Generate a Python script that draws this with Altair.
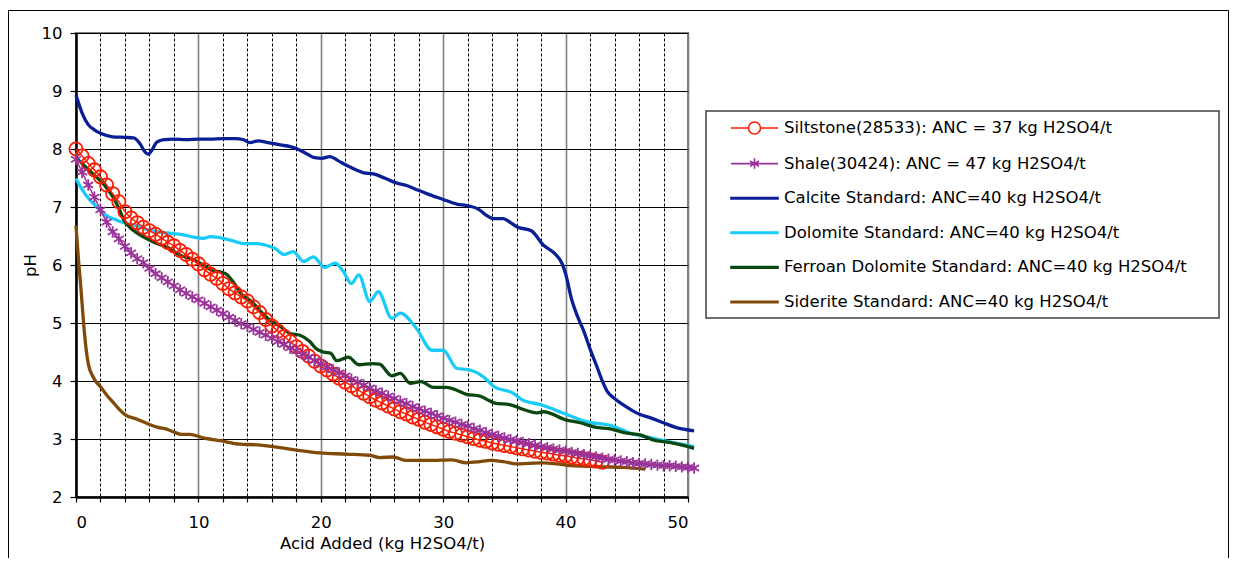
import altair as alt
import pandas as pd

series_names = [
    "Siltstone(28533): ANC = 37 kg H2SO4/t",
    "Shale(30424): ANC = 47 kg H2SO4/t",
    "Calcite Standard: ANC=40 kg H2SO4/t",
    "Dolomite Standard: ANC=40 kg H2SO4/t",
    "Ferroan Dolomite Standard: ANC=40 kg H2SO4/t",
    "Siderite Standard: ANC=40 kg H2SO4/t",
]
series_colors = ["#FA1E05", "#993399", "#0A1E96", "#1ACBF7", "#0B4710", "#804A08"]

# legend glyphs (line + marker), custom symbol paths
thick_bar = "M-1.88,-0.06H1.88V0.06H-1.88Z"
legend_shapes = [
    "M-1.88,0H-0.48M0.48,0H1.88M0.48,0A0.48,0.48 0 1 1 -0.48,0A0.48,0.48 0 1 1 0.48,0",
    "M-1.88,0H1.88M0,-0.42V0.42M-0.36,-0.21L0.36,0.21M-0.36,0.21L0.36,-0.21",
    thick_bar, thick_bar, thick_bar, thick_bar,
]
star_path = "M0,-1V1M-0.87,-0.5L0.87,0.5M-0.87,0.5L0.87,-0.5"

x_tick_values = [0, 2, 4, 6, 8, 10, 12, 14, 16, 18, 20, 22, 24, 26, 28, 30,
                 32, 34, 36, 38, 40, 42, 44, 46, 48, 50]
y_tick_values = [2, 3, 4, 5, 6, 7, 8, 9, 10]

# Siltstone: readings every 0.5 kg H2SO4/t
siltstone_ph = [8.0, 7.88, 7.75, 7.64, 7.52, 7.38, 7.23, 7.09, 6.92, 6.81, 6.73, 6.65,
                6.59, 6.53, 6.46, 6.39, 6.33, 6.25, 6.18, 6.1, 6.02, 5.92, 5.84, 5.77,
                5.68, 5.59, 5.52, 5.45, 5.38, 5.28, 5.18, 5.06, 4.95, 4.86, 4.77, 4.68,
                4.59, 4.51, 4.43, 4.34, 4.26, 4.19, 4.12, 4.05, 3.98, 3.92, 3.85, 3.79,
                3.73, 3.67, 3.62, 3.57, 3.52, 3.47, 3.43, 3.38, 3.34, 3.29, 3.25, 3.21,
                3.17, 3.13, 3.1, 3.07, 3.04, 3.01, 2.98, 2.96, 2.93, 2.91, 2.89, 2.87,
                2.85, 2.83, 2.81, 2.79, 2.77, 2.76, 2.74, 2.72, 2.71, 2.69, 2.67, 2.66,
                2.64, 2.62, 2.6]
siltstone_acid = [i * 0.5 for i in range(len(siltstone_ph))]

# Shale: readings every 0.5 kg H2SO4/t
shale_ph = [7.82, 7.6, 7.38, 7.17, 6.95, 6.74, 6.57, 6.45, 6.32, 6.21, 6.11, 6.04,
            5.94, 5.85, 5.78, 5.71, 5.64, 5.57, 5.51, 5.45, 5.4, 5.34, 5.28, 5.22,
            5.16, 5.1, 5.04, 4.99, 4.94, 4.89, 4.84, 4.79, 4.74, 4.68, 4.63, 4.57,
            4.52, 4.46, 4.41, 4.35, 4.3, 4.24, 4.19, 4.14, 4.09, 4.03, 3.98, 3.93,
            3.88, 3.83, 3.79, 3.74, 3.7, 3.65, 3.61, 3.56, 3.52, 3.48, 3.44, 3.4,
            3.36, 3.32, 3.29, 3.25, 3.22, 3.18, 3.15, 3.11, 3.08, 3.05, 3.02, 2.99,
            2.97, 2.94, 2.92, 2.89, 2.87, 2.85, 2.83, 2.81, 2.79, 2.77, 2.75, 2.73,
            2.71, 2.69, 2.67, 2.65, 2.64, 2.62, 2.61, 2.59, 2.58, 2.57, 2.56, 2.55,
            2.54, 2.54, 2.53, 2.52, 2.51, 2.5]
shale_acid = [i * 0.5 for i in range(len(shale_ph))]

calcite_acid = [0, 0.5, 1.0, 1.5, 2.0, 3.0, 4.0, 4.7, 5.2, 5.6, 5.9, 6.2, 6.6, 7.2, 8, 9,
                10, 11, 12, 13, 13.7, 14.2, 14.9, 15.5, 16.7, 17.5, 18.3, 19.0, 19.5,
                20.1, 20.75, 21.4, 22.1, 23.0, 23.5, 24.3, 25.2, 26.1, 27.0, 27.6, 28.65,
                30.0, 31.1, 32.05, 32.9, 33.5, 34.1, 34.9, 35.5, 36.0, 37.2, 38.2, 39.1,
                39.7, 40.0, 40.5, 41.0, 41.5, 42.0, 42.5, 43.0, 43.4, 44.0, 45.0, 46.0,
                47.0, 48.0, 49.0, 50.5]
calcite_ph = [8.93, 8.62, 8.42, 8.33, 8.27, 8.21, 8.2, 8.19, 8.1, 7.96, 7.91, 7.98, 8.12,
              8.16, 8.17, 8.16, 8.17, 8.17, 8.18, 8.18, 8.16, 8.11, 8.14, 8.12, 8.07,
              8.04, 7.98, 7.9, 7.85, 7.84, 7.87, 7.8, 7.72, 7.63, 7.59, 7.57, 7.5, 7.42,
              7.37, 7.32, 7.23, 7.13, 7.05, 7.02, 6.96, 6.86, 6.8, 6.8, 6.73, 6.66, 6.59,
              6.34, 6.2, 6.03, 5.85, 5.4, 5.1, 4.85, 4.55, 4.28, 4.0, 3.82, 3.7, 3.55,
              3.43, 3.36, 3.28, 3.2, 3.14]

dolomite_acid = [0, 0.5, 1.14, 1.7, 2.2, 3.0, 3.6, 5.2, 6.0, 7.1, 8.0, 8.8, 9.6, 10.4,
                 11.0, 11.5, 12.6, 13.7, 14.8, 15.85, 16.3, 17.0, 17.75, 18.6, 19.4, 20.3,
                 21.2, 21.8, 22.5, 23.1, 24.0, 24.7, 25.8, 26.5, 27.8, 29.1, 30.0, 31.1,
                 32.2, 33.3, 34.1, 35.7, 36.5, 38.0, 40.0, 41.7, 43.9, 45.3, 47.2, 48.5,
                 50.5]
dolomite_ph = [7.49, 7.3, 7.12, 7.0, 6.89, 6.8, 6.75, 6.66, 6.6, 6.56, 6.54, 6.52, 6.48,
               6.46, 6.49, 6.48, 6.43, 6.37, 6.37, 6.32, 6.28, 6.18, 6.23, 6.06, 6.14,
               5.96, 6.03, 5.9, 5.68, 5.83, 5.37, 5.54, 5.08, 5.17, 4.91, 4.53, 4.53,
               4.22, 4.19, 4.07, 3.91, 3.79, 3.67, 3.59, 3.43, 3.3, 3.22, 3.1, 3.01,
               2.95, 2.87]

ferroan_acid = [0, 0.5, 1, 1.5, 2, 2.5, 3, 3.5, 3.9, 4.5, 5.0, 5.8, 6.6, 7.5, 8.5, 9.5,
                10.4, 11.2, 11.8, 12.3, 12.9, 13.5, 14.35, 15.0, 15.85, 16.7, 17.5, 18.3,
                19.1, 19.6, 20.2, 20.8, 21.3, 22.25, 23.1, 24.2, 24.8, 25.8, 26.5, 27.3,
                28.2, 29.2, 30.3, 31.1, 31.9, 33.0, 33.5, 34.2, 35.5, 36.7, 37.6, 38.2,
                40.0, 41.2, 42.5, 43.5, 45.0, 46.1, 47.2, 48.5, 50.5]
ferroan_ph = [7.85, 7.75, 7.65, 7.55, 7.45, 7.33, 7.18, 6.98, 6.78, 6.63, 6.55, 6.45,
              6.37, 6.3, 6.17, 6.1, 6.0, 5.9, 5.88, 5.84, 5.69, 5.5, 5.37, 5.22, 5.05,
              4.94, 4.82, 4.79, 4.68, 4.56, 4.5, 4.48, 4.35, 4.41, 4.28, 4.3, 4.29, 4.09,
              4.13, 3.96, 3.99, 3.89, 3.89, 3.84, 3.77, 3.74, 3.69, 3.62, 3.59, 3.5,
              3.45, 3.47, 3.33, 3.28, 3.2, 3.18, 3.1, 3.07, 2.98, 2.94, 2.84]

siderite_acid = [0, 0.2, 0.4, 0.6, 0.8, 1.0, 1.4, 2.0, 2.5, 3.0, 3.5, 4.0, 5.0, 6.0, 6.7,
                 7.4, 8.0, 8.6, 9.3, 10.4, 11.8, 13.4, 14.8, 16.7, 18.0, 19.9, 22.1, 24.0,
                 24.8, 25.9, 27.0, 28.9, 30.7, 31.9, 33.0, 33.8, 34.9, 36.0, 37.0, 38.2,
                 39.3, 40.4, 41.7, 43.1, 44.7, 46.5]
siderite_ph = [6.68, 6.1, 5.6, 5.05, 4.6, 4.3, 4.07, 3.9, 3.76, 3.64, 3.52, 3.42, 3.34,
               3.25, 3.2, 3.17, 3.12, 3.08, 3.08, 3.02, 2.97, 2.91, 2.9, 2.85, 2.81, 2.76,
               2.74, 2.72, 2.68, 2.69, 2.63, 2.63, 2.64, 2.59, 2.61, 2.63, 2.61, 2.57,
               2.58, 2.59, 2.57, 2.54, 2.53, 2.52, 2.51, 2.48]


def frame(name, xs, ys):
    return pd.DataFrame({"series": name, "acid": xs, "ph": ys})


FONT = "DejaVu Sans"
FS = 16.5

x_axis = alt.Axis(
    values=x_tick_values,
    labelExpr="datum.value % 10 === 0 ? datum.label : ''",
    title="Acid Added (kg H2SO4/t)",
    grid=True,
    gridColor={"condition": {"test": "datum.value % 10 === 0", "value": "#808080"}, "value": "#000000"},
    gridDash={"condition": {"test": "datum.value % 10 === 0", "value": []}, "value": [3, 2]},
    gridWidth={"condition": {"test": "datum.value % 10 === 0", "value": 1.6}, "value": 1},
    tickColor="black", tickSize=5, tickWidth=1.2,
    domainColor="black", domainWidth=2.5,
    labelFont=FONT, labelFontSize=FS, labelColor="black", labelPadding=12,
    labelOverlap=False,
    titleFont=FONT, titleFontSize=FS, titleFontWeight="normal", titleColor="black",
    titlePadding=5,
)
y_axis = alt.Axis(
    values=y_tick_values,
    format="d",
    title="pH",
    grid=True, gridColor="#000000", gridWidth=1,
    tickColor="black", tickSize=6, tickWidth=1.2,
    domainColor="black", domainWidth=2.5,
    labelFont=FONT, labelFontSize=FS, labelColor="black", labelPadding=8,
    titleFont=FONT, titleFontSize=FS, titleFontWeight="normal", titleColor="black",
    titlePadding=3,
)
x_scale = alt.Scale(domain=[0, 50], nice=False, zero=False)
y_scale = alt.Scale(domain=[2, 10], nice=False, zero=False)


def xe():
    return alt.X("acid:Q", scale=x_scale, axis=x_axis)


def ye():
    return alt.Y("ph:Q", scale=y_scale, axis=y_axis)


legend = alt.Legend(
    orient="none", legendX=665, legendY=81.5, title=None,
    labelFont=FONT, labelFontSize=FS, labelColor="black", labelLimit=600,
    labelOffset=16, symbolSize=625, rowPadding=12.6, padding=0,
    symbolStrokeWidth=1.6,
)

# outer frame and legend box (chart chrome)
frame_rect = alt.Chart(alt.Data(values=[{}])).mark_rect(
    fillOpacity=0, stroke="black", strokeWidth=1
).encode(x=alt.value(-67.5), x2=alt.value(1152.5), y=alt.value(-22.5), y2=alt.value(600))

legend_box = alt.Chart(alt.Data(values=[{}])).mark_rect(
    fill="white", stroke="#404040", strokeWidth=1.5
).encode(x=alt.value(630), x2=alt.value(1143), y=alt.value(78), y2=alt.value(285))

layers = [frame_rect, legend_box]

std_sets = [
    (series_names[2], calcite_acid, calcite_ph, series_colors[2]),
    (series_names[3], dolomite_acid, dolomite_ph, series_colors[3]),
    (series_names[4], ferroan_acid, ferroan_ph, series_colors[4]),
    (series_names[5], siderite_acid, siderite_ph, series_colors[5]),
]
for name, xs, ys, col in std_sets:
    layers.append(
        alt.Chart(frame(name, xs, ys)).mark_line(
            interpolate="monotone", strokeWidth=3.3, color=col
        ).encode(x=xe(), y=ye())
    )

df_silt = frame(series_names[0], siltstone_acid, siltstone_ph)
layers.append(alt.Chart(df_silt).mark_line(
    interpolate="monotone", strokeWidth=1.5, color=series_colors[0]).encode(x=xe(), y=ye()))
layers.append(alt.Chart(df_silt).mark_point(
    shape="circle", size=175, filled=False, strokeWidth=1.8, opacity=1, color=series_colors[0]
).encode(x=xe(), y=ye()))

df_shale = frame(series_names[1], shale_acid, shale_ph)
layers.append(alt.Chart(df_shale).mark_line(
    interpolate="monotone", strokeWidth=1.5, color=series_colors[1]).encode(x=xe(), y=ye()))
layers.append(alt.Chart(df_shale).mark_point(
    shape=star_path, size=130, filled=False, strokeWidth=1.8, opacity=1, color=series_colors[1]
).encode(x=xe(), y=ye()))

# legend-only layer: no rows drawn, entries come from the explicit scale domain
df_all = pd.concat([df_silt, df_shale] + [frame(n, a, p) for n, a, p, _ in std_sets])
layers.append(
    alt.Chart(df_all).transform_filter("false").mark_point(filled=False, opacity=1).encode(
        x=xe(), y=ye(),
        color=alt.Color("series:N", scale=alt.Scale(domain=series_names, range=series_colors),
                        legend=legend),
        shape=alt.Shape("series:N", scale=alt.Scale(domain=series_names, range=legend_shapes),
                        legend=legend),
    )
)

chart = alt.layer(*layers).properties(
    width=612, height=464,
    autosize=alt.AutoSizeParams(type="none"),
    padding={"left": 68, "top": 25, "right": 541, "bottom": 61},
    background="white",
).configure_view(
    stroke="#808080", strokeWidth=2
)

chart.save("out.html", embed_options={"renderer": "svg", "actions": False})
